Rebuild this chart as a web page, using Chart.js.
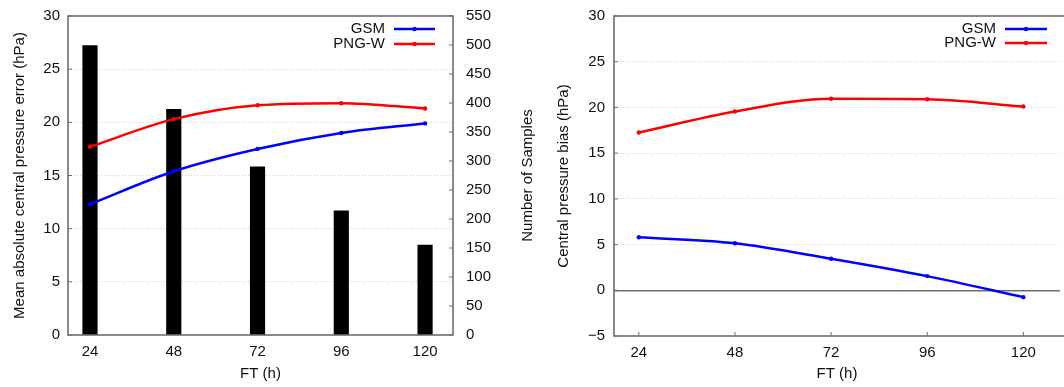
<!DOCTYPE html>
<html>
<head>
<meta charset="utf-8">
<script src="https://cdn.jsdelivr.net/npm/chart.js@4.4.1/dist/chart.umd.min.js"></script>
<style>
  body { margin: 0; background: #fff; overflow: hidden; }
  canvas { position: absolute; top: 0; }
  #maeChart { left: 0; }
  #biasChart { left: 540px; }
</style>
</head>
<body>
<canvas id="maeChart" width="540" height="387"></canvas>
<canvas id="biasChart" width="524" height="387"></canvas>
<script>
// forecast times (h)
const forecastHours = [24, 48, 72, 96, 120];
const seriesNames = ["GSM", "PNG-W"];
const seriesColors = ["#0000ff", "#ff0000"];

// left panel: mean absolute central pressure error (hPa) + sample counts
const maeGSM = [12.3, 15.4, 17.5, 19.0, 19.9];
const maePNGW = [17.7, 20.3, 21.6, 21.8, 21.3];
const sampleCounts = [499, 389, 290, 214, 155];

// right panel: central pressure bias (hPa)
const biasGSM = [5.8, 5.15, 3.45, 1.55, -0.75];
const biasPNGW = [17.25, 19.55, 20.95, 20.9, 20.1];

const borderGrey = "#6e6e6e";
const gridGrey = "#cfcfcf";
const fontFamily = "'Liberation Sans', Arial, sans-serif";

Chart.defaults.font.family = fontFamily;
Chart.defaults.font.size = 15;
Chart.defaults.color = "#111";

const pts = (vals) => forecastHours.map((h, i) => ({ x: h, y: vals[i] }));
const minus = (v) => String(v).replace("-", "\u2212");

function lineSet(i, vals) {
  return {
    type: "line",
    label: seriesNames[i],
    data: pts(vals),
    yAxisID: "y",
    borderColor: seriesColors[i],
    backgroundColor: seriesColors[i],
    borderWidth: 2.5,
    pointRadius: 2.2,
    pointBorderWidth: 0,
    cubicInterpolationMode: "monotone",
    order: 1,
  };
}

// frame, inward ticks, gnuplot-like key and the right-hand title
const frame = {
  id: "frame",
  beforeDatasetsDraw(chart) {
    const { ctx, chartArea: a, scales } = chart;
    ctx.save();
    ctx.strokeStyle = borderGrey;
    ctx.lineWidth = 1;
    ctx.beginPath();
    scales.x.ticks.forEach((t) => {
      const px = scales.x.getPixelForValue(t.value);
      ctx.moveTo(px, a.bottom);
      ctx.lineTo(px, a.bottom - 4);
    });
    scales.y.ticks.forEach((t) => {
      const py = scales.y.getPixelForValue(t.value);
      ctx.moveTo(a.left, py);
      ctx.lineTo(a.left + 4, py);
    });
    if (scales.y2) {
      scales.y2.ticks.forEach((t) => {
        const py = scales.y2.getPixelForValue(t.value);
        ctx.moveTo(a.right, py);
        ctx.lineTo(a.right - 4, py);
      });
    }
    ctx.stroke();
    ctx.restore();
  },
  afterDatasetsDraw(chart, args, opts) {
    const { ctx, chartArea: a } = chart;
    ctx.save();
    ctx.strokeStyle = borderGrey;
    ctx.lineWidth = 1.6;
    ctx.strokeRect(a.left, a.top, a.right - a.left + (opts.openRight ? 20 : 0), a.bottom - a.top);

    // key
    ctx.font = "15px " + fontFamily;
    ctx.textAlign = "right";
    ctx.textBaseline = "middle";
    seriesNames.forEach((name, i) => {
      const y = opts.keyRows[i];
      ctx.fillStyle = "#111";
      ctx.fillText(name, a.right - opts.keyText, y);
      ctx.strokeStyle = seriesColors[i];
      ctx.lineWidth = 2.5;
      ctx.beginPath();
      ctx.moveTo(a.right - opts.keyLine[0], y);
      ctx.lineTo(a.right - opts.keyLine[1], y);
      ctx.stroke();
      ctx.fillStyle = seriesColors[i];
      ctx.beginPath();
      ctx.arc(a.right - (opts.keyLine[0] + opts.keyLine[1]) / 2, y, 2.2, 0, Math.PI * 2);
      ctx.fill();
    });

    if (opts.y2Title) {
      ctx.translate(opts.y2TitleX, (a.top + a.bottom) / 2);
      ctx.rotate(-Math.PI / 2);
      ctx.textAlign = "center";
      ctx.fillStyle = "#111";
      ctx.fillText(opts.y2Title, 0, 0);
    }
    ctx.restore();
  },
};

const xScale = (min, max, h) => ({
  type: "linear",
  min: min,
  max: max,
  offset: false,
  afterBuildTicks: (s) => { s.ticks = forecastHours.map((v) => ({ value: v })); },
  afterFit: (s) => { s.height = h; },
  grid: { display: false, drawTicks: false, offset: false },
  border: { display: false },
  ticks: { padding: 8 },
  title: { display: true, text: "FT (h)", padding: { bottom: 4 } },
});

const gridColor = (ctx) => {
  const v = ctx.tick.value;
  if (v === ctx.scale.min || v === ctx.scale.max) return "rgba(0,0,0,0)";
  return v === 0 ? borderGrey : gridGrey;
};

// label gap is made with an invisible tick length so it does not push the top padding
const gap = (len) => ({ drawTicks: true, tickLength: len, tickColor: "rgba(0,0,0,0)" });

new Chart(document.getElementById("maeChart"), {
  type: "bar",
  data: {
    datasets: [
      lineSet(0, maeGSM),
      lineSet(1, maePNGW),
      {
        type: "bar",
        label: "Number of Samples",
        data: pts(sampleCounts),
        yAxisID: "y2",
        backgroundColor: "#000",
        barThickness: 14.5,
        order: 2,
      },
    ],
  },
  options: {
    responsive: false,
    animation: false,
    layout: { padding: { top: 16, left: 0, right: 0, bottom: 0 } },
    plugins: {
      legend: { display: false },
      tooltip: { enabled: false },
      frame: { keyRows: [29, 44], keyText: 68, keyLine: [59, 18], y2Title: "Number of Samples", y2TitleX: 528 },
    },
    scales: {
      x: xScale(17.7, 128, 52),
      y: {
        position: "left",
        min: 0,
        max: 30,
        afterFit: (s) => { s.width = 68; },
        ticks: { stepSize: 5, padding: 0 },
        grid: Object.assign({ color: gridColor, lineWidth: 1 }, gap(8)),
        border: { display: false, dash: [1, 2] },
        title: { display: true, text: "Mean absolute central pressure error (hPa)", padding: { top: 11 } },
      },
      y2: {
        position: "right",
        min: 0,
        max: 550,
        afterFit: (s) => { s.width = 87; },
        ticks: { stepSize: 50, padding: 0 },
        grid: Object.assign({ display: false }, gap(13)),
        border: { display: false },
      },
    },
  },
  plugins: [frame],
});

new Chart(document.getElementById("biasChart"), {
  type: "line",
  data: {
    datasets: [lineSet(0, biasGSM), lineSet(1, biasPNGW)],
  },
  options: {
    responsive: false,
    animation: false,
    layout: { padding: { top: 16, left: 0, right: 0, bottom: 0 } },
    plugins: {
      legend: { display: false },
      tooltip: { enabled: false },
      frame: { keyRows: [29, 43], keyText: 64, keyLine: [55, 13], openRight: true },
    },
    scales: {
      x: xScale(17.8, 129.15, 51),
      y: {
        position: "left",
        min: -5,
        max: 30,
        afterFit: (s) => { s.width = 74; },
        ticks: { stepSize: 5, padding: 0, callback: (v) => minus(v) },
        grid: Object.assign({ color: gridColor, lineWidth: (c) => (c.tick.value === 0 ? 1.4 : 1) }, gap(9)),
        border: { display: false, dash: (c) => (c.tick && c.tick.value === 0 ? [] : [1, 2]) },
        title: { display: true, text: "Central pressure bias (hPa)", padding: { top: 15 } },
      },
    },
  },
  plugins: [frame],
});
</script>
</body>
</html>
